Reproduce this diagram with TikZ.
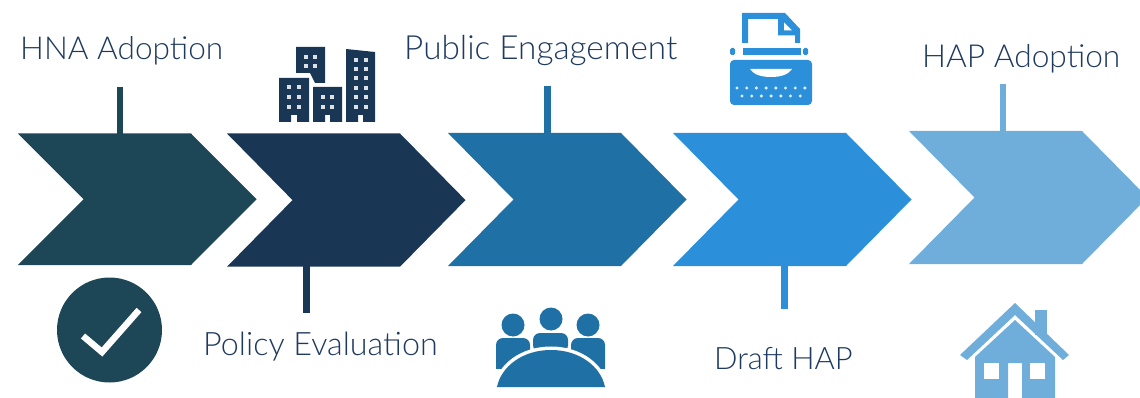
\documentclass[tikz,border=0pt]{standalone}
\usepackage{fontspec}
\setmainfont{Lato}[UprightFont=* Light]
\definecolor{cA}{HTML}{1D4656}
\definecolor{cB}{HTML}{1A3655}
\definecolor{cC}{HTML}{1F70A4}
\definecolor{cD}{HTML}{2B90D9}
\definecolor{cE}{HTML}{6FADDB}
\definecolor{ink}{HTML}{1F3A5F}
\tikzset{
  label text/.style={anchor=base west,inner sep=0pt,text=ink,font=\fontsize{#1}{34}\selectfont},
  stem/.style={line width=6.5pt},
}
\newcommand{\chev}[5]{% left, top, bottom, colour, name
  \pgfmathsetmacro{\mid}{(#2+#3)/2}
  \fill[#4] (#1,#2) -- ({#1+173},#2) -- ({#1+238.5},\mid) -- ({#1+173},#3) -- (#1,#3) -- ({#1+65.5},\mid) -- cycle;
}
\begin{document}
\begin{tikzpicture}[x=1pt,y=-1pt]
\useasboundingbox (0,0) rectangle (1140,398);
\clip (0,0) rectangle (1140,398);
% chevrons
\chev{18}{133.5}{265}{cA}{a}
\chev{227}{133.5}{266.7}{cB}{b}
\chev{448}{133}{266}{cC}{c}
\chev{673}{133}{266}{cD}{d}
\chev{909}{131}{264}{cE}{e}
% anchors
\coordinate (a1) at (120,87);  \coordinate (a2) at (120,134);
\coordinate (b1) at (306.5,266); \coordinate (b2) at (306.5,313);
\coordinate (c1) at (547.5,86); \coordinate (c2) at (547.5,133);
\coordinate (d1) at (784.5,266); \coordinate (d2) at (784.5,309);
\coordinate (e1) at (1003,84); \coordinate (e2) at (1003,131);
\draw[stem,cA] (a1) -- (a2);
\draw[stem,cB] (b1) -- (b2);
\draw[stem,cC] (c1) -- (c2);
\draw[stem,cD] (d1) -- (d2);
\draw[stem,cE] (e1) -- (e2);
% labels
\node[label text=31.6] (ta) at (20,60) {HNA Adoption};
\node[label text=33.3] (tc) at (404,60) {Public Engagement};
\node[label text=31.7] (te) at (922,68) {HAP Adoption};
\node[label text=32.3] (tb) at (203,355) {Policy Evaluation};
\node[label text=30.9] (td) at (714,369) {Draft HAP};
% check icon
\fill[cA] (109.5,330) circle (52.5);
\draw[white,line width=6.5pt,line cap=butt,line join=miter] (83,336) -- (102,352) -- (139,310);
% buildings icon
\fill[cB] (279,78) -- (309,78) -- (309,122) -- (297,122) -- (297,115) -- (291,115) -- (291,122) -- (279,122) -- cycle;
\fill[cB] (313,87) -- (342,87) -- (342,122) -- (330,122) -- (330,115) -- (325,115) -- (325,122) -- (313,122) -- cycle;
\fill[cB] (346,49) -- (375,52) -- (375,122) -- (363,122) -- (363,115) -- (358,115) -- (358,122) -- (346,122) -- cycle;
\fill[cB] (296,47) -- (325,47) -- (325,83) -- (315,83) -- (310,73) -- (296,73) -- cycle;
\foreach \x in {289,299} \foreach \y in {87,97,107} \fill[white!85!cB] (\x-2,\y-2) rectangle +(4,4);
\foreach \x in {306,315} \foreach \y in {57,66} \fill[white!85!cB] (\x-2,\y-2) rectangle +(4,4);
\foreach \x in {323,332} \foreach \y in {97,107} \fill[white!85!cB] (\x-2,\y-2) rectangle +(4,4);
\foreach \x in {356,366} \foreach \y in {60.5,69,78,88,97,107} \fill[white!85!cB] (\x-2,\y-2) rectangle +(4,4);
% people icon
\fill[cC] (551,319) circle (11.5);
\fill[cC] (513,325) circle (11.5);
\fill[cC] (588,325) circle (11.5);
\fill[cC,rounded corners=7pt] (533,352) -- (533,333) -- (568,333) -- (568,352) -- cycle;
\fill[cC,rounded corners=7pt] (496,375) -- (496,338) -- (530,338) -- (530,360) -- (510,375) -- cycle;
\fill[cC,rounded corners=7pt] (605,375) -- (605,338) -- (571,338) -- (571,360) -- (590,375) -- cycle;
\fill[white] (490,369) rectangle (612,392);
\draw[white,line width=7pt] (497,387) .. controls (501,367) and (522,350) .. (551,350) .. controls (580,350) and (601,367) .. (605,387);
\fill[cC] (497,387) .. controls (501,367) and (522,350) .. (551,350) .. controls (580,350) and (601,367) .. (605,387) -- cycle;
% typewriter icon
\fill[cD] (742,43) -- (742,13) -- (785,13) -- (800,29) -- (800,43) -- (795,43) -- (795,35.5) -- (778,35.5) -- (778,19) -- (748,19) -- (748,43) -- cycle;
\fill[cD] (784,21) -- (794,31) -- (784,31) -- cycle;
\fill[white] (784,22.5) -- (792,30.5) -- (784,30.5) -- cycle;
\fill[cD] (743,48) rectangle (801,55);
\fill[cD,rounded corners=1.5pt] (730,48) -- (735,48) -- (735,55) -- (730,55) -- cycle;
\fill[cD,rounded corners=1.5pt] (803,48) -- (808,48) -- (808,55) -- (803,55) -- cycle;
\fill[cD,rounded corners=4pt] (730,60) rectangle (812,105);
\fill[white] (750,69) -- (792,69) .. controls (788,75) and (780,77) .. (771,77) .. controls (762,77) and (754,75) .. (750,69) -- cycle;
\foreach \i in {0,...,7} \fill[white!85!cD] ({737+9.7*\i},88) circle (1.7);
\foreach \i in {0,...,6} \fill[white!85!cD] ({742+9.7*\i},96) circle (1.7);
% house icon
\fill[cE] (1035,310) rectangle (1047,335);
\fill[cE] (960,355) -- (1015,303) -- (1069,355) -- (1063,360) -- (1015,315) -- (967,360) -- cycle;
\fill[cE] (1015,320) -- (1055,357) -- (1055,398) -- (1022,398) -- (1022,363) -- (1008,363) -- (1008,398) -- (975,398) -- (975,357) -- cycle;
\fill[white] (984,363) rectangle (999,379);
\fill[white] (1030,363) rectangle (1045,379);
\end{tikzpicture}
\end{document}
